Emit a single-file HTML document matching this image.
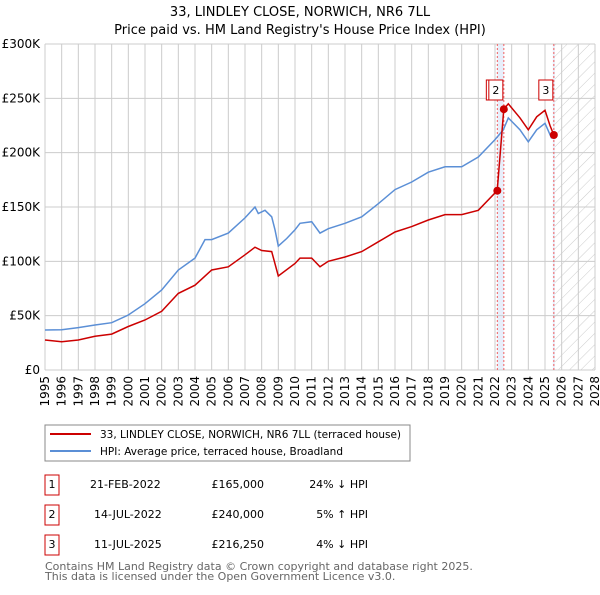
<!DOCTYPE html>
<html><head><meta charset="utf-8"><style>
body{margin:0;background:#fff;font-family:"Liberation Sans","DejaVu Sans",sans-serif;}
svg text{font-family:"DejaVu Sans","Liberation Sans",sans-serif;}
</style></head><body>
<svg id="chart" width="600" height="590" viewBox="0 0 600 590" xmlns="http://www.w3.org/2000/svg">
<defs><pattern id="hatch" width="8" height="8" patternUnits="userSpaceOnUse" patternTransform="rotate(45)"><line x1="0" y1="0" x2="0" y2="8" stroke="#ccc" stroke-width="1"/></pattern></defs>
<text x="300" y="16" text-anchor="middle" font-size="13">33, LINDLEY CLOSE, NORWICH, NR6 7LL</text>
<text x="300" y="34" text-anchor="middle" font-size="13">Price paid vs. HM Land Registry's House Price Index (HPI)</text>
<g id="grid"></g><g id="marks"></g><g id="axes"></g>
<rect x="45" y="425" width="365" height="36" fill="none" stroke="#888"/>
<line x1="50" y1="434" x2="91" y2="434" stroke="#cc0000" stroke-width="2"/>
<text x="100" y="438" font-size="10.5">33, LINDLEY CLOSE, NORWICH, NR6 7LL (terraced house)</text>
<line x1="50" y1="451" x2="91" y2="451" stroke="#5b8fd6" stroke-width="2"/>
<text x="100" y="455" font-size="10.5">HPI: Average price, terraced house, Broadland</text>
<g font-size="11">
<rect x="45" y="475" width="14" height="20" fill="none" stroke="#cc0000"/><text x="52" y="488" text-anchor="middle">1</text>
<text x="90" y="488">21-FEB-2022</text><text x="264" y="488" text-anchor="end">£165,000</text><text x="368" y="488" text-anchor="end">24% ↓ HPI</text>
<rect x="45" y="505" width="14" height="20" fill="none" stroke="#cc0000"/><text x="52" y="518" text-anchor="middle">2</text>
<text x="94" y="518">14-JUL-2022</text><text x="264" y="518" text-anchor="end">£240,000</text><text x="368" y="518" text-anchor="end">5% ↑ HPI</text>
<rect x="45" y="535" width="14" height="20" fill="none" stroke="#cc0000"/><text x="52" y="548" text-anchor="middle">3</text>
<text x="94" y="548">11-JUL-2025</text><text x="264" y="548" text-anchor="end">£216,250</text><text x="368" y="548" text-anchor="end">4% ↓ HPI</text>
</g>
<text x="45" y="570" font-size="11" fill="#666">Contains HM Land Registry data © Crown copyright and database right 2025.</text>
<text x="45" y="580" font-size="11" fill="#666">This data is licensed under the Open Government Licence v3.0.</text>
</svg>
<script>
const hpiYears=[1995,1996,1997,1998,1999,2000,2001,2002,2003,2004,2004.6,2005,2006,2007,2007.6,2007.8,2008.2,2008.6,2008.8,2009,2009.5,2010,2010.3,2011,2011.5,2012,2013,2014,2015,2016,2017,2018,2019,2020,2021,2022,2022.5,2022.8,2023.5,2024,2024.5,2025,2025.4];
const hpiValues=[36.8,37,39,41.4,43.5,50.6,61,73.6,92,103,120,120,126,140,150,144,147,141,129,114,121,129,135,136.5,126,130,135,141,153,166,173,182,187,187,196,212,221,232,221,210,221,227,213];
const propYears=[1995,1996,1997,1998,1999,2000,2001,2002,2003,2004,2005,2006,2007,2007.6,2008,2008.6,2009,2010,2010.3,2011,2011.5,2012,2013,2014,2015,2016,2017,2018,2019,2020,2021,2022.13,2022.53,2022.8,2023.5,2024,2024.5,2025,2025.3,2025.53];
const propValues=[27.6,26,27.6,31,33,40,46,54,70.5,78,92,95,106,113,110,109,86.5,98,103,103,95,100,104,109,118,127,132,138,143,143,147,165,240,245,232,221,233,239,225,216.25];
const saleYears=[2022.14,2022.53,2025.53];
const saleValues=[165,240,216.25];
const saleLabels=["1","2","3"];
const yTicks=[0,50,100,150,200,250,300];
const yTickLabels=["£0","£50K","£100K","£150K","£200K","£250K","£300K"];
const xTicks=[];for(let y=1995;y<=2028;y++)xTicks.push(y);

const NS="http://www.w3.org/2000/svg";
const X0=45,X1=595,Y0=370,Y1=44;
const xs=y=>X0+(y-1995)/(2028-1995)*(X1-X0);
const ys=v=>Y0-v/300*(Y0-Y1);
function mk(tag,attrs,parent){const e=document.createElementNS(NS,tag);for(const k in attrs)e.setAttribute(k,attrs[k]);parent.appendChild(e);return e;}
const grid=document.getElementById('grid'),marks=document.getElementById('marks'),axes=document.getElementById('axes');
const hz=mk('rect',{x:xs(saleYears[2]),y:Y1,width:X1-xs(saleYears[2]),height:Y0-Y1,fill:'url(#hatch)'},grid);


const b1=mk('rect',{x:xs(saleYears[0]),y:Y1,width:xs(saleYears[1])-xs(saleYears[0]),height:Y0-Y1,fill:'#e8eefa'},grid);


const b3=mk('rect',{x:xs(saleYears[2])-1,y:Y1,width:2,height:Y0-Y1,fill:'#e8eefa'},grid);


xTicks.forEach(t=>{const l=mk('line',{x1:xs(t),x2:xs(t),y1:Y1,y2:Y0,stroke:'#ccc'},grid);


const tx=mk('text',{x:0,y:0,'font-size':12,'text-anchor':'end',transform:`translate(${xs(t)+4},${Y0+6}) rotate(-90)`},axes);tx.textContent=t;

});
yTicks.forEach((t,i)=>{const l=mk('line',{x1:X0,x2:X1,y1:ys(t),y2:ys(t),stroke:'#ccc'},grid);


const tx=mk('text',{x:X0-5,y:ys(t)+4,'font-size':12,'text-anchor':'end'},axes);tx.textContent=yTickLabels[i];

});
saleYears.forEach(s=>{const l=mk('line',{x1:xs(s),x2:xs(s),y1:Y1,y2:Y0,stroke:'#f06060','stroke-dasharray':'2,2'},grid);

});
function pts(a,b){return a.map((y,i)=>xs(y).toFixed(1)+','+ys(b[i]).toFixed(1)).join(' ');}
const hl=mk('polyline',{points:pts(hpiYears,hpiValues),fill:'none',stroke:'#5b8fd6','stroke-width':1.5},marks);


const pl=mk('polyline',{points:pts(propYears,propValues),fill:'none',stroke:'#cc0000','stroke-width':1.5},marks);


saleYears.forEach((s,i)=>{const c=mk('circle',{cx:xs(s),cy:ys(saleValues[i]),r:4,fill:'#cc0000'},marks);


const lx=i===0?xs(s)-4:xs(s)-8;
const r=mk('rect',{x:lx-7,y:80,width:14,height:20,fill:'#fff',stroke:'#cc0000'},marks);


const t=mk('text',{x:lx,y:94,'font-size':11,'text-anchor':'middle'},marks);t.textContent=saleLabels[i];

});
</script>
</body></html>
